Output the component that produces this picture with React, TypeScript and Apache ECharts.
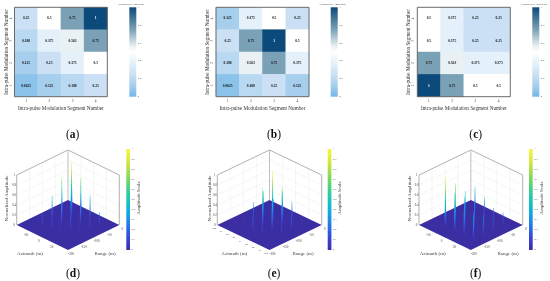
import React, { useEffect, useRef } from "react";
import * as echarts from "echarts";

const SERIF = "Liberation Serif";
const segments = ["1", "2", "3", "4"];
const rowsTopDown = ["4", "3", "2", "1"];
const matrixA = [
  ["0.25", "0.5", "0.75", "1"],
  ["0.188", "0.375", "0.563", "0.75"],
  ["0.125", "0.25", "0.375", "0.5"],
  ["0.0625", "0.125", "0.188", "0.25"],
];
const matrixB = [
  ["0.125", "0.375", "0.5", "0.25"],
  ["0.25", "0.75", "1", "0.5"],
  ["0.188", "0.563", "0.75", "0.375"],
  ["0.0625", "0.188", "0.25", "0.125"],
];
const matrixC = [
  ["0.5", "0.375", "0.25", "0.25"],
  ["0.5", "0.375", "0.25", "0.25"],
  ["0.75", "0.563", "0.375", "0.375"],
  ["1", "0.75", "0.5", "0.5"],
];
const spikeRanges = [-152, -114, -76, -38];
const azimuthsABTopDown = [-48, -12, 24, 60];
const azimuthsCTopDown = [62, 26, -10, -46];
const zTicks = [0, 0.2, 0.4, 0.6, 0.8, 1];
const rangeTicks = [0, -50, -100, -150, -200];
const azimuthTicksCoarse = [-50, 0, 50];
const azimuthTicksFine = [-100, -75, -50, -25, 0, 25, 50, 75, 100];
const wallAzimuthLines = [-50, 0, 50];
const wallRangeLines = [-50, -100, -150];
const heatStops = [
  [0, "#72b6e6"],
  [0.125, "#a6cfee"],
  [0.25, "#cbe0f4"],
  [0.375, "#e4f1fa"],
  [0.5, "#ffffff"],
  [0.563, "#eaf1f4"],
  [0.75, "#7ba1b6"],
  [1, "#0c4a7b"],
] as [number, string][];
const amplitudeStops = [
  [0, "#3c2ea2"],
  [0.1, "#3a3fd0"],
  [0.2, "#2d64e8"],
  [0.3, "#1c90e6"],
  [0.4, "#0cb3dc"],
  [0.5, "#18c8b8"],
  [0.6, "#3fd08a"],
  [0.7, "#78d860"],
  [0.8, "#b0e04a"],
  [0.9, "#dcec40"],
  [1, "#f8f53a"],
] as [number, string][];

function hexToRgb(h: string) {
  return [1, 3, 5].map((i) => parseInt(h.slice(i, i + 2), 16));
}
function sample(stops: [number, string][], t: number) {
  for (let i = 1; i < stops.length; i++) {
    if (t <= stops[i][0]) {
      const [a, ca] = stops[i - 1];
      const [b, cb] = stops[i];
      const f = (t - a) / (b - a);
      const A = hexToRgb(ca);
      const B = hexToRgb(cb);
      return `rgb(${A.map((v, k) => Math.round(v + (B[k] - v) * f)).join(",")})`;
    }
  }
  return stops[stops.length - 1][1];
}
function gradient(stops: [number, string][]) {
  return new echarts.graphic.LinearGradient(
    0, 0, 0, 1,
    stops.map(([o, color]) => ({ offset: 1 - o, color })).reverse()
  );
}
// oblique view of the scene: azimuth, range, amplitude -> two flat axes
const P = (az: number, r: number, z: number): [number, number] => {
  const u = (az + 100) / 200;
  const v = (r + 200) / 200;
  return [u + v, v - u + 2 * z];
};

const heatPanels = [
  { left: 14.5, width: 92.8, barLeft: 129.3, matrix: matrixA, cap: "a", capX: 72.7 },
  { left: 216, width: 93, barLeft: 330.7, matrix: matrixB, cap: "b", capX: 274 },
  { left: 417.3, width: 93, barLeft: 532.3, matrix: matrixC, cap: "c", capX: 475.7 },
];
const surfacePanels = [
  { left: 16.7, width: 102.6, barLeft: 126.3, matrix: matrixA, az: azimuthsABTopDown, azTicks: azimuthTicksCoarse, azFont: 3.2, cap: "d", capX: 73, azX: 30, rX: 105, nX: 6, sX: 138.5 },
  { left: 217.3, width: 104.4, barLeft: 327.7, matrix: matrixB, az: azimuthsABTopDown, azTicks: azimuthTicksFine, azFont: 2.6, cap: "e", capX: 274, azX: 234.3, rX: 303, nX: 209.7, sX: 339.3 },
  { left: 419, width: 103.7, barLeft: 529, matrix: matrixC, az: azimuthsCTopDown, azTicks: azimuthTicksCoarse, azFont: 3.2, cap: "f", capX: 475.7, azX: 432.7, rX: 508, nX: 409, sX: 541 },
];

function buildOption() {
  const grid: any[] = [];
  const xAxis: any[] = [];
  const yAxis: any[] = [];
  const series: any[] = [];
  const visualMap: any[] = [];
  const graphic: any[] = [];

  const label = (text: string, x: number, y: number, size: number, rotation = 0, fill = "#444") =>
    graphic.push({
      type: "text", x, y, rotation, silent: true,
      style: { text, fontSize: size, fontFamily: SERIF, fill, align: "center", verticalAlign: "middle" },
    });
  const caption = (c: string, x: number, y: number) =>
    graphic.push({
      type: "text", x, y, silent: true,
      style: {
        text: `{n|(}{b|${c}}{n|)}`, align: "center", verticalAlign: "middle",
        rich: {
          n: { fontSize: 11.5, fontFamily: SERIF, fill: "#111" },
          b: { fontSize: 11.5, fontFamily: SERIF, fontWeight: "bold", fill: "#111" },
        },
      },
    });
  const colorbar = (left: number, width: number, top: number, height: number, stops: [number, string][], interval: number, grey: string) => {
    const i = grid.length;
    grid.push({ left, width, top, height });
    xAxis.push({ gridIndex: i, type: "value", min: 0, max: 1, show: false });
    yAxis.push({
      gridIndex: i, type: "value", min: 0, max: 1, interval, position: "right",
      axisLine: { show: false }, axisTick: { show: false }, splitLine: { show: false },
      axisLabel: { fontSize: 2.8, fontFamily: SERIF, color: grey, margin: 1.5, formatter: (v: number) => String(+v.toFixed(1)) },
    });
    series.push({
      type: "custom", xAxisIndex: i, yAxisIndex: i, data: [0], silent: true,
      renderItem: (params: any) => {
        const c = params.coordSys;
        return { type: "rect", shape: { x: c.x, y: c.y, width: c.width, height: c.height }, style: { fill: gradient(stops) } };
      },
    });
  };

  heatPanels.forEach((p) => {
    const i = grid.length;
    grid.push({ left: p.left, width: p.width, top: 7.3, height: 89.4 });
    xAxis.push({
      gridIndex: i, type: "category", data: segments,
      name: "Intra-pulse Modulation Segment Number", nameLocation: "middle", nameGap: 8.5,
      nameTextStyle: { fontSize: 5.2, fontFamily: SERIF, color: "#333" },
      axisLine: { show: false }, axisTick: { show: false },
      axisLabel: { fontSize: 3.4, fontFamily: SERIF, color: "#333", margin: 3 },
    });
    yAxis.push({
      gridIndex: i, type: "category", data: segments,
      name: "Intra-pulse Modulation Segment Number", nameLocation: "middle", nameGap: 6.5,
      nameTextStyle: { fontSize: 5.2, fontFamily: SERIF, color: "#333" },
      axisLine: { show: false }, axisTick: { show: false },
      axisLabel: { fontSize: 3.4, fontFamily: SERIF, color: "#333", margin: 2.5, rotate: 90 },
    });
    const data: any[] = [];
    p.matrix.forEach((row, r) =>
      row.forEach((s, c) => {
        data.push({
          value: [segments[c], rowsTopDown[r], +s], text: s,
          label: { color: +s === 1 ? "#fff" : "#111" },
        });
      })
    );
    const sIdx = series.length;
    series.push({
      type: "heatmap", xAxisIndex: i, yAxisIndex: i, data, silent: true,
      label: {
        show: true, fontSize: 3.6, fontWeight: "bold", fontFamily: SERIF,
        formatter: (d: any) => d.data.text,
      },
    });
    const ramp: string[] = [];
    for (let k = 0; k <= 32; k++) ramp.push(sample(heatStops, k / 32));
    visualMap.push({
      show: false, type: "continuous", min: 0, max: 1, dimension: 2, seriesIndex: sIdx,
      inRange: { color: ramp },
    });
    series.push({
      type: "custom", xAxisIndex: i, yAxisIndex: i, data: [0], silent: true, z: 5,
      renderItem: (params: any) => {
        const c = params.coordSys;
        return { type: "rect", shape: { x: c.x, y: c.y, width: c.width, height: c.height }, style: { fill: "none", stroke: "#6b6b6b", lineWidth: 1 } };
      },
    });
    colorbar(p.barLeft, 7, 7.3, 89.4, heatStops, 0.2, "#444");
    label("Normalized Amplitude", p.barLeft + 2, 3.8, 2.9);
    caption(p.cap, p.capX, 133.6);
  });

  surfacePanels.forEach((p) => {
    const i = grid.length;
    grid.push({ left: p.left, width: p.width, top: 150, height: 100 });
    xAxis.push({ gridIndex: i, type: "value", min: 0, max: 2, show: false });
    yAxis.push({ gridIndex: i, type: "value", min: -1, max: 3, show: false });

    series.push({
      type: "custom", xAxisIndex: i, yAxisIndex: i, data: [0], silent: true, z: 1,
      renderItem: (_: any, api: any) => {
        const c = (az: number, r: number, z: number) => api.coord(P(az, r, z));
        const thin = { stroke: "#ececec", lineWidth: 0.5 };
        const line = (a: number[], b: number[], style: any) => ({
          type: "line", shape: { x1: a[0], y1: a[1], x2: b[0], y2: b[1] }, style,
        });
        const children: any[] = [];
        zTicks.slice(1, -1).forEach((z) => {
          children.push(line(c(-100, -200, z), c(-100, 0, z), thin));
          children.push(line(c(-100, 0, z), c(100, 0, z), thin));
        });
        wallRangeLines.forEach((r) => children.push(line(c(-100, r, 0), c(-100, r, 1), thin)));
        wallAzimuthLines.forEach((a) => children.push(line(c(a, 0, 0), c(a, 0, 1), thin)));
        const edge = { stroke: "#a8a8a8", lineWidth: 0.9, fill: "none" };
        children.push({
          type: "polyline",
          shape: { points: [c(-100, -200, 0), c(-100, -200, 1), c(-100, 0, 1), c(100, 0, 1), c(100, 0, 0)] },
          style: edge,
        });
        children.push(line(c(-100, 0, 0), c(-100, 0, 1), { stroke: "#bdbdbd", lineWidth: 1 }));
        children.push({
          type: "polygon",
          shape: { points: [c(-100, -200, 0), c(100, -200, 0), c(100, 0, 0), c(-100, 0, 0)] },
          style: { fill: "#3b2ea3" },
        });
        return { type: "group", children };
      },
    });

    const spikes: number[][] = [];
    p.matrix.forEach((row, r) => row.forEach((s, k) => spikes.push([p.az[r], spikeRanges[k], +s])));
    spikes.sort((a, b) => a[0] - a[1] - (b[0] - b[1]));
    series.push({
      type: "custom", xAxisIndex: i, yAxisIndex: i, data: spikes, silent: true, z: 2,
      dimensions: ["az", "r", "amp"],
      renderItem: (_: any, api: any) => {
        const az = api.value(0), r = api.value(1), amp = api.value(2);
        const [x, y] = api.coord(P(az, r, 0));
        const [, ty] = api.coord(P(az, r, amp));
        const h = y - ty;
        const w = 0.55 + 0.45 * Math.sqrt(amp);
        const stops: any[] = [];
        for (let t = 0; t <= 10; t++) stops.push({ offset: t / 10, color: sample(amplitudeStops, amp * (1 - t / 10)) });
        return {
          type: "polygon",
          shape: {
            points: [
              [x - 0.2, ty], [x + 0.2, ty], [x + 0.5 * w, y - 0.5 * h], [x + 0.85 * w, y - 0.12 * h], [x + 1.5 * w, y],
              [x, y + 0.7], [x - 1.5 * w, y], [x - 0.85 * w, y - 0.12 * h], [x - 0.5 * w, y - 0.5 * h],
            ],
          },
          style: { fill: new echarts.graphic.LinearGradient(0, 0, 0, 1, stops) },
        };
      },
    });

    const tickData: any[] = [
      ...p.azTicks.map((a) => ({ value: [a, -200, 0, -3.5, 3.5, p.azFont], text: String(a) })),
      ...rangeTicks.map((r) => ({ value: [100, r, 0, 3, 3.5, 3.2], text: String(r) })),
      ...zTicks.map((z) => ({ value: [-100, -200, z, -2.5, 0, 3], text: String(z) })),
    ];
    series.push({
      type: "custom", xAxisIndex: i, yAxisIndex: i, data: tickData, silent: true, z: 3,
      renderItem: (params: any, api: any) => {
        const [x, y] = api.coord(P(api.value(0), api.value(1), api.value(2)));
        return {
          type: "text",
          style: {
            x: x + api.value(3), y: y + api.value(4), text: tickData[params.dataIndex].text,
            fontSize: api.value(5), fontFamily: SERIF, fill: "#444", align: "center", verticalAlign: "middle",
          },
        };
      },
    });
    colorbar(p.barLeft, 3.7, 149, 101, amplitudeStops, 0.1, "#555");
    label("Normalized Amplitude", p.nX, 198.5, 5, Math.PI / 2);
    label("Amplitude Scale", p.sX, 198, 5, Math.PI / 2);
    label("Azimuth (m)", p.azX, 253, 5);
    label("Range (m)", p.rX, 253, 5);
    caption(p.cap, p.capX, 272.5);
  });

  return { animation: false, backgroundColor: "#fff", grid, xAxis, yAxis, series, visualMap, graphic };
}

export default function App() {
  const ref = useRef<HTMLDivElement>(null);
  useEffect(() => {
    const chart = echarts.init(ref.current!, undefined, { renderer: "svg" });
    chart.setOption(buildOption());
    return () => chart.dispose();
  }, []);
  return <div ref={ref} style={{ position: "fixed", left: 0, top: 0, width: 550, height: 281, filter: "blur(0.3px)" }} />;
}
